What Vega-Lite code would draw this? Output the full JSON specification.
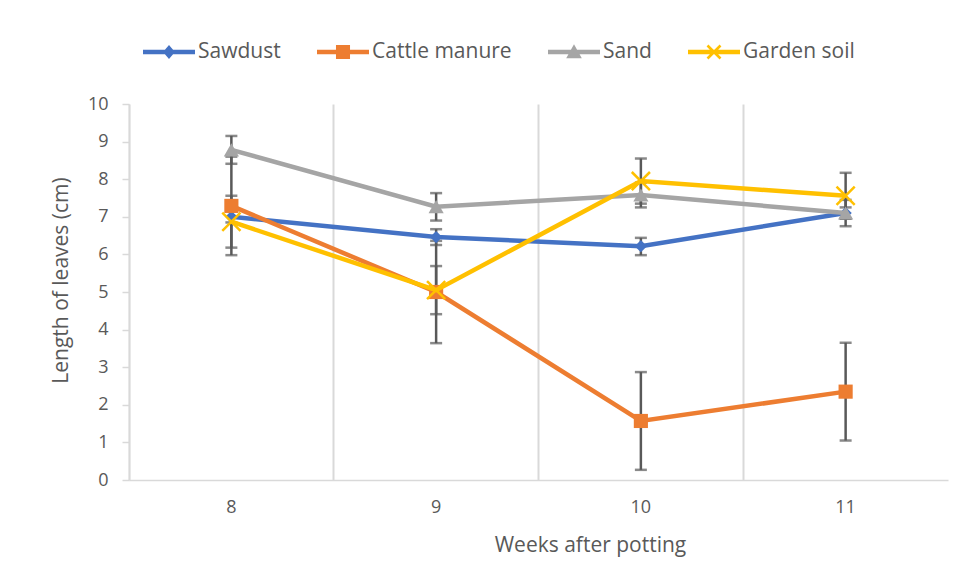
{
  "$schema": "https://vega.github.io/schema/vega-lite/v6.json",
  "width": 819,
  "height": 376,
  "autosize": "none",
  "padding": {"left": 129, "top": 104, "right": 19, "bottom": 107},
  "background": "white",
  "config": {
    "font": "Open Sans",
    "view": {"stroke": null}
  },
  "data": {
    "values": [
      {"week": 8, "series": "Sawdust", "value": 7.0, "lo": 6.85, "hi": 7.15},
      {"week": 9, "series": "Sawdust", "value": 6.46, "lo": 6.25, "hi": 6.67},
      {"week": 10, "series": "Sawdust", "value": 6.22, "lo": 5.98, "hi": 6.44},
      {"week": 11, "series": "Sawdust", "value": 7.1, "lo": 6.95, "hi": 7.25},
      {"week": 8, "series": "Cattle manure", "value": 7.29, "lo": 5.98, "hi": 8.6},
      {"week": 9, "series": "Cattle manure", "value": 5.0, "lo": 3.64, "hi": 6.36},
      {"week": 10, "series": "Cattle manure", "value": 1.57, "lo": 0.27, "hi": 2.87},
      {"week": 11, "series": "Cattle manure", "value": 2.35, "lo": 1.05, "hi": 3.65},
      {"week": 8, "series": "Sand", "value": 8.78, "lo": 8.41, "hi": 9.15},
      {"week": 9, "series": "Sand", "value": 7.27, "lo": 6.9, "hi": 7.63},
      {"week": 10, "series": "Sand", "value": 7.58, "lo": 7.25, "hi": 7.91},
      {"week": 11, "series": "Sand", "value": 7.1, "lo": 6.75, "hi": 7.45},
      {"week": 8, "series": "Garden soil", "value": 6.87, "lo": 6.18, "hi": 7.56},
      {"week": 9, "series": "Garden soil", "value": 5.05, "lo": 4.41, "hi": 5.69},
      {"week": 10, "series": "Garden soil", "value": 7.95, "lo": 7.35, "hi": 8.55},
      {"week": 11, "series": "Garden soil", "value": 7.56, "lo": 6.95, "hi": 8.17}
    ]
  },
  "encoding": {
    "x": {
      "field": "week",
      "type": "ordinal",
      "sort": "ascending",
      "scale": {"type": "band", "paddingInner": 0, "paddingOuter": 0},
      "axis": {
        "title": "Weeks after potting",
        "labelAngle": 0,
        "bandPosition": 0,
        "ticks": false,
        "labelPadding": 18,
        "labelFont": "Open Sans",
        "labelFontSize": 18,
        "labelColor": "#595959",
        "titleFont": "Open Sans",
        "titleFontSize": 21,
        "titleFontWeight": "normal",
        "titleColor": "#595959",
        "grid": true,
        "gridColor": "#D9D9D9",
        "gridWidth": 2,
        "domainColor": "#D9D9D9",
        "domainWidth": 1.5,
        "titleX": 461,
        "titleY": 54
      }
    },
    "y": {
      "field": "value",
      "type": "quantitative",
      "scale": {"domain": [0, 10]},
      "axis": {
        "title": "Length of leaves (cm)",
        "values": [0, 1, 2, 3, 4, 5, 6, 7, 8, 9, 10],
        "grid": false,
        "tickSize": 7,
        "tickColor": "#D9D9D9",
        "tickWidth": 1.5,
        "domainColor": "#D9D9D9",
        "domainWidth": 1.5,
        "labelPadding": 14,
        "labelFont": "Open Sans",
        "labelFontSize": 18,
        "labelColor": "#595959",
        "titleFont": "Open Sans",
        "titleFontSize": 21,
        "titleFontWeight": "normal",
        "titleColor": "#595959",
        "titleX": -68,
        "titleY": 176,
        "titleBaseline": "middle"
      }
    }
  },
  "layer": [
    {
      "mark": {
        "type": "errorbar",
        "ticks": {"size": 12, "thickness": 2.5, "color": "#595959"},
        "rule": {"strokeWidth": 2.5, "color": "#595959"},
        "color": "#595959"
      },
      "encoding": {
        "y": {"field": "lo", "type": "quantitative", "scale": {"domain": [0, 10]}},
        "y2": {"field": "hi"}
      }
    },
    {
      "transform": [{"filter": {"field": "series", "equal": "Sawdust"}}],
      "layer": [
        {"mark": {"type": "line", "color": "#4472C4", "strokeWidth": 4.5}},
        {"mark": {"type": "point", "shape": "diamond", "filled": true, "color": "#4472C4", "size": 150, "opacity": 1}}
      ]
    },
    {
      "transform": [{"filter": {"field": "series", "equal": "Cattle manure"}}],
      "layer": [
        {"mark": {"type": "line", "color": "#ED7D31", "strokeWidth": 4.5}},
        {"mark": {"type": "point", "shape": "square", "filled": true, "color": "#ED7D31", "size": 200, "opacity": 1}}
      ]
    },
    {
      "transform": [{"filter": {"field": "series", "equal": "Sand"}}],
      "layer": [
        {"mark": {"type": "line", "color": "#A5A5A5", "strokeWidth": 4.5}},
        {"mark": {"type": "point", "shape": "triangle-up", "filled": true, "color": "#A5A5A5", "size": 230, "opacity": 1}}
      ]
    },
    {
      "transform": [{"filter": {"field": "series", "equal": "Garden soil"}}],
      "layer": [
        {"mark": {"type": "line", "color": "#FFC000", "strokeWidth": 4.5}},
        {"mark": {"type": "point", "shape": "M-1,-1L1,1M-1,1L1,-1", "filled": false, "stroke": "#FFC000", "strokeWidth": 2.5, "size": 330, "opacity": 1}}
      ]
    },
    {
      "mark": {"type": "point", "filled": true, "opacity": 0},
      "encoding": {
        "color": {
          "field": "series",
          "type": "nominal",
          "scale": {"domain": ["Sawdust", "Cattle manure", "Sand", "Garden soil"], "range": ["#4472C4", "#ED7D31", "#A5A5A5", "#FFC000"]},
          "legend": {
            "title": null,
            "orient": "none",
            "direction": "horizontal",
            "legendX": 14,
            "legendY": -78,
            "symbolSize": 2704,
            "symbolOpacity": 1,
            "symbolStrokeWidth": 0,
            "labelOffset": 3,
            "columnPadding": 36,
            "labelFont": "Open Sans",
            "labelFontSize": 21,
            "labelColor": "#595959"
          }
        },
        "shape": {
          "field": "series",
          "type": "nominal",
          "scale": {
            "domain": ["Sawdust", "Cattle manure", "Sand", "Garden soil"],
            "range": [
              "M-1,-0.085L1,-0.085L1,0.085L-1,0.085Z M0,-0.27L0.23,0L0,0.27L-0.23,0Z",
              "M-1,-0.085L1,-0.085L1,0.085L-1,0.085Z M-0.27,-0.27L0.27,-0.27L0.27,0.27L-0.27,0.27Z",
              "M-1,-0.085L1,-0.085L1,0.085L-1,0.085Z M0,-0.3L0.3,0.24L-0.3,0.24Z",
              "M-1,-0.085L1,-0.085L1,0.085L-1,0.085Z M-0.215,-0.285L0.285,0.215L0.215,0.285L-0.285,-0.215Z M0.285,-0.215L-0.215,0.285L-0.285,0.215L0.215,-0.285Z"
            ]
          },
          "legend": null
        }
      }
    }
  ]
}
